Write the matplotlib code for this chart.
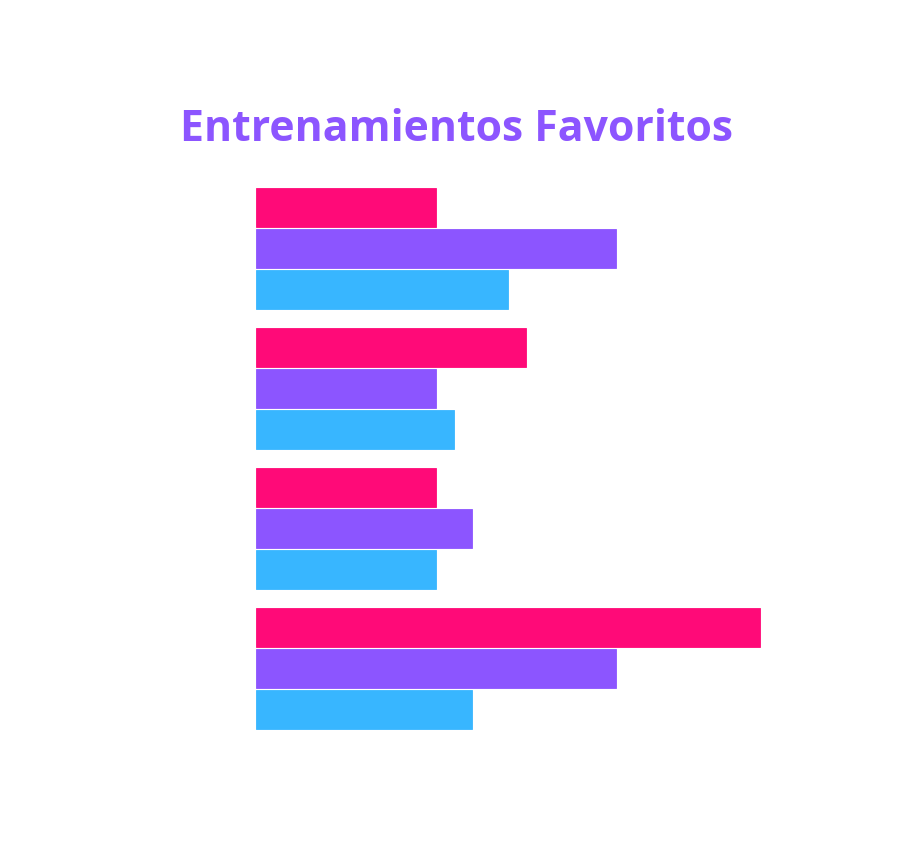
import matplotlib
matplotlib.use("Agg")
import matplotlib.pyplot as plt
import numpy as np

categories = ["Grupo 1", "Grupo 2", "Grupo 3", "Grupo 4"]
series_names = ["Serie A", "Serie B", "Serie C"]
serie_a = [10, 15, 10, 28]
serie_b = [20, 10, 12, 20]
serie_c = [14, 11, 10, 12]
colors = ["#FF0A78", "#8C55FF", "#38B6FF"]
title = "Entrenamientos Favoritos"

W, H = 910, 866
fig = plt.figure(figsize=(W / 100, H / 100), dpi=100)
fig.patch.set_facecolor("white")

# axes in pixel coordinates
left_px, right_px = 256, 796
top_px, bot_px = 180, 740
ax = fig.add_axes([left_px / W, 1 - bot_px / H, (right_px - left_px) / W, (bot_px - top_px) / H])

pitch = 41.0
first_center = 207.75
group_step = 140.0 / pitch
y_top = (top_px - first_center) / pitch
y_bot = (bot_px - first_center) / pitch

series = [serie_a, serie_b, serie_c]
base = np.arange(len(categories)) * group_step
for j, vals in enumerate(series):
    ax.barh(base + j, vals, height=0.96, color=colors[j], edgecolor=colors[j],
            linewidth=0.6, label=series_names[j])

ax.set_xlim(0, 30)
ax.set_ylim(y_bot, y_top)
ax.axis("off")

fig.text(456 / W, 1 - 141 / H, title, ha="center", va="baseline",
         fontsize=30.8, fontweight="bold", color="#8C55FF", family=["Open Sans", "DejaVu Sans"])

fig.savefig("out.png", dpi=100, facecolor="white")
